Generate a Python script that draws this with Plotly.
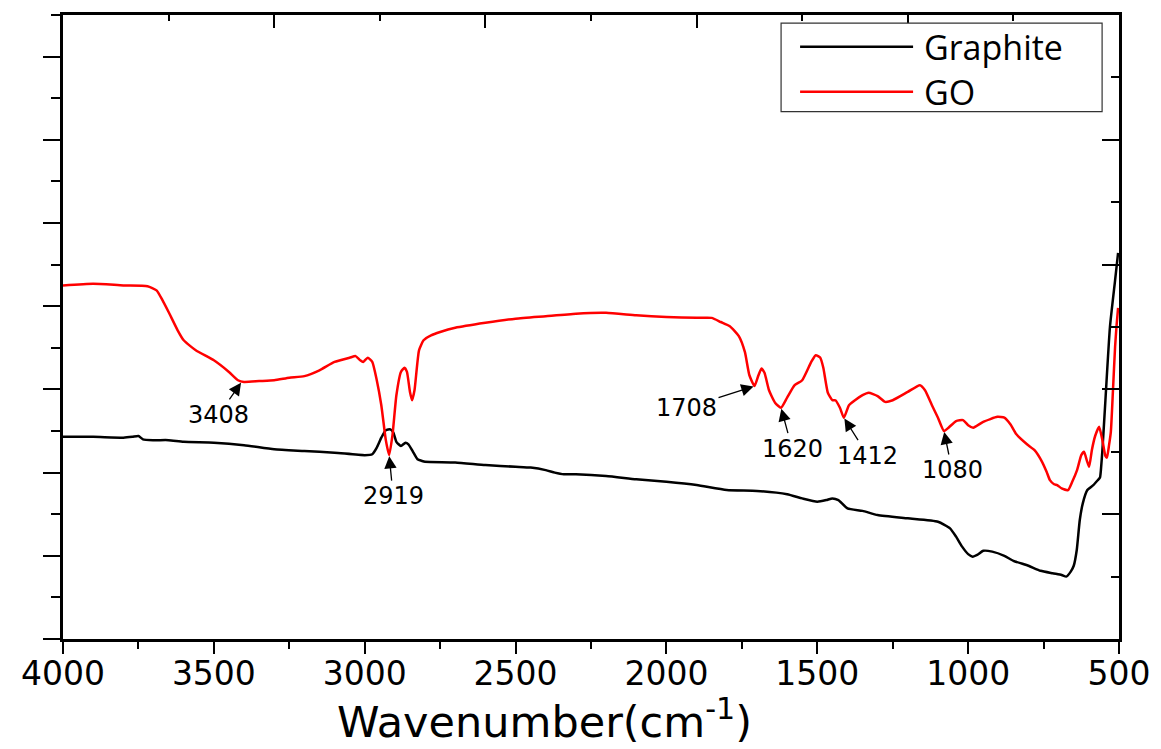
import plotly.graph_objects as go

# FTIR spectra: wavenumber (cm^-1) vs transmittance (arbitrary units)
graphite_wn = [4000, 3900, 3800, 3770, 3750, 3735, 3700, 3650, 3600, 3500, 3400, 3300,
               3200, 3100, 3000, 2975, 2960, 2945, 2930, 2915, 2905, 2895, 2880, 2865,
               2855, 2840, 2825, 2810, 2800, 2700, 2600, 2500, 2450, 2400, 2370, 2340,
               2300, 2200, 2100, 2000, 1900, 1800, 1700, 1600, 1550, 1500, 1470, 1450,
               1430, 1400, 1350, 1300, 1200, 1100, 1060, 1040, 1020, 1000, 985, 970,
               950, 920, 880, 850, 800, 760, 720, 690, 675, 660, 650, 640, 630, 620,
               605, 585, 570, 563, 560, 555, 545, 530, 513, 503]
graphite_t = [2.43, 2.43, 2.42, 2.43, 2.44, 2.40, 2.39, 2.39, 2.37, 2.36, 2.33, 2.28,
              2.26, 2.24, 2.21, 2.22, 2.30, 2.42, 2.51, 2.52, 2.48, 2.37, 2.32, 2.36,
              2.34, 2.25, 2.16, 2.14, 2.13, 2.12, 2.09, 2.07, 2.06, 2.03, 2.00, 1.98,
              1.98, 1.96, 1.92, 1.89, 1.85, 1.79, 1.78, 1.74, 1.69, 1.65, 1.67, 1.69,
              1.67, 1.57, 1.54, 1.49, 1.45, 1.41, 1.33, 1.23, 1.11, 1.02, 0.99, 1.01,
              1.06, 1.05, 1.00, 0.94, 0.88, 0.82, 0.79, 0.77, 0.75, 0.81, 0.88, 1.07,
              1.43, 1.63, 1.79, 1.85, 1.91, 1.94, 2.03, 2.27, 2.87, 3.75, 4.31, 4.64]

go_wn = [4000, 3900, 3800, 3720, 3690, 3670, 3650, 3620, 3600, 3560, 3500, 3450,
         3420, 3400, 3350, 3300, 3250, 3200, 3150, 3100, 3050, 3030, 3015, 3005,
         2990, 2975, 2960, 2945, 2930, 2919, 2908, 2895, 2880, 2868, 2860, 2850,
         2843, 2835, 2820, 2805, 2780, 2750, 2700, 2600, 2500, 2400, 2300, 2200,
         2100, 2000, 1900, 1850, 1820, 1790, 1760, 1740, 1725, 1708, 1695, 1685,
         1675, 1660, 1640, 1620, 1600, 1575, 1550, 1520, 1505, 1490, 1480, 1465,
         1450, 1440, 1425, 1412, 1395, 1375, 1350, 1330, 1300, 1275, 1250, 1200,
         1160, 1143, 1120, 1100, 1080, 1065, 1040, 1017, 1000, 983, 950, 903,
         880, 860, 840, 805, 780, 755, 740, 729, 715, 705, 690, 669, 655, 639,
         625, 616, 607, 599, 590, 579, 566, 555, 545, 540, 533, 527, 520, 513,
         508, 503]
go_t = [4.25, 4.27, 4.25, 4.24, 4.19, 4.07, 3.93, 3.71, 3.59, 3.47, 3.35, 3.21,
        3.11, 3.09, 3.10, 3.11, 3.14, 3.16, 3.23, 3.33, 3.38, 3.40, 3.35, 3.33,
        3.38, 3.33, 3.11, 2.81, 2.39, 2.21, 2.45, 2.93, 3.21, 3.26, 3.21, 2.97,
        2.87, 2.99, 3.47, 3.59, 3.65, 3.69, 3.74, 3.80, 3.85, 3.88, 3.91, 3.92,
        3.89, 3.87, 3.86, 3.86, 3.81, 3.76, 3.64, 3.45, 3.17, 3.04, 3.17, 3.25,
        3.20, 2.99, 2.84, 2.78, 2.90, 3.05, 3.11, 3.33, 3.41, 3.38, 3.26, 2.96,
        2.87, 2.87, 2.78, 2.66, 2.81, 2.87, 2.93, 2.96, 2.92, 2.85, 2.87, 2.97,
        3.05, 2.99, 2.81, 2.66, 2.50, 2.54, 2.62, 2.63, 2.57, 2.54, 2.61, 2.67,
        2.66, 2.58, 2.46, 2.34, 2.27, 2.13, 2.01, 1.91, 1.86, 1.85, 1.81, 1.79,
        1.89, 2.03, 2.21, 2.25, 2.15, 2.07, 2.27, 2.44, 2.55, 2.39, 2.20, 2.18,
        2.33, 2.49, 2.99, 3.51, 3.77, 3.98]

series_names = ["Graphite", "GO"]
series_colors = ["#000000", "#ff0000"]

# Labelled absorption bands on the GO spectrum: (wavenumber, label offset x, label offset y)
peak_labels = [(3408, -23, 33), (2919, 4, 41), (1708, -68, 22),
               (1620, 11, 41), (1412, 24, 38), (1080, 8, 39)]

x_ticks = [4000, 3500, 3000, 2500, 2000, 1500, 1000, 500]
x_title = "Wavenumber(cm<sup>-1</sup>)"

fig = go.Figure()
fig.add_trace(go.Scatter(x=graphite_wn, y=graphite_t, mode="lines", name=series_names[0],
                         line=dict(color=series_colors[0], width=2.5, shape="spline",
                                   smoothing=0.5),
                         showlegend=False))
fig.add_trace(go.Scatter(x=go_wn, y=go_t, mode="lines", name=series_names[1],
                         line=dict(color=series_colors[1], width=2.5, shape="spline",
                                   smoothing=0.5),
                         showlegend=False))
# empty trace that carries the top/right frame axes
fig.add_trace(go.Scatter(x=[], y=[], xaxis="x2", yaxis="y2", showlegend=False,
                         hoverinfo="skip"))


def go_value_at(wn):
    # GO transmittance at a listed wavenumber (nearest point of the spectrum)
    i = min(range(len(go_wn)), key=lambda k: abs(go_wn[k] - wn))
    return go_t[i]


for wn, dx, dy in peak_labels:
    fig.add_annotation(x=wn, y=go_value_at(wn), xref="x", yref="y", text=str(wn),
                       showarrow=True, ax=dx, ay=dy, axref="pixel", ayref="pixel",
                       arrowhead=2, arrowsize=1.9, arrowwidth=1.3, arrowcolor="black",
                       standoff=1,
                       font=dict(family="DejaVu Sans", size=24, color="black"))

# x-axis title, set slightly left of the plot centre
fig.add_annotation(x=0.456, y=-0.176, xref="paper", yref="paper", text=x_title,
                   showarrow=False, xanchor="center", yanchor="bottom",
                   font=dict(family="DejaVu Sans", size=43, color="black"))

# legend box drawn with shapes
fig.add_shape(type="rect", xref="paper", yref="paper", x0=0.680, x1=0.984,
              y0=0.845, y1=0.987, line=dict(color="#333333", width=1.2),
              fillcolor="white")
legend_rows = [0.949, 0.877]
for name, color, yy in zip(series_names, series_colors, legend_rows):
    fig.add_shape(type="line", xref="paper", yref="paper", x0=0.698, x1=0.805,
                  y0=yy, y1=yy, line=dict(color=color, width=2.5))
    fig.add_annotation(x=0.813, y=yy, xref="paper", yref="paper", text=name,
                       showarrow=False, xanchor="left", yanchor="middle",
                       font=dict(family="Open Sans", size=34, color="black"))

axis_common = dict(showline=True, linecolor="black", linewidth=2.5, showgrid=False,
                   zeroline=False, tickcolor="black", tickwidth=2, automargin=False)

fig.update_layout(
    width=1161, height=749,
    margin=dict(l=63, r=42, t=15, b=110),
    paper_bgcolor="white", plot_bgcolor="white",
    xaxis=dict(range=[4000, 500], tickvals=x_ticks, ticks="outside", ticklen=12,
               ticklabelstandoff=-8,
               minor=dict(dtick=250, ticks="outside", ticklen=7, tickwidth=2,
                          tickcolor="black"),
               tickfont=dict(family="DejaVu Sans", size=33, color="black"),
               **axis_common),
    yaxis=dict(range=[0, 7.5], dtick=1, tick0=0, ticks="outside", ticklen=17,
               showticklabels=False,
               minor=dict(dtick=0.5, tick0=0, ticks="outside", ticklen=9, tickwidth=2,
                          tickcolor="black"),
               **axis_common),
    xaxis2=dict(overlaying="x", side="top", anchor="y2", range=[0, 5], dtick=1, tick0=0,
                ticks="inside", ticklen=13, showticklabels=False,
                minor=dict(dtick=0.5, tick0=0, ticks="inside", ticklen=6, tickwidth=2,
                           tickcolor="black"),
                **axis_common),
    yaxis2=dict(overlaying="y", side="right", anchor="x2", range=[0, 5], dtick=1, tick0=0,
                ticks="inside", ticklen=17, showticklabels=False,
                minor=dict(dtick=0.5, tick0=0, ticks="inside", ticklen=8, tickwidth=2,
                           tickcolor="black"),
                **axis_common),
)

fig.write_html("out.html")
